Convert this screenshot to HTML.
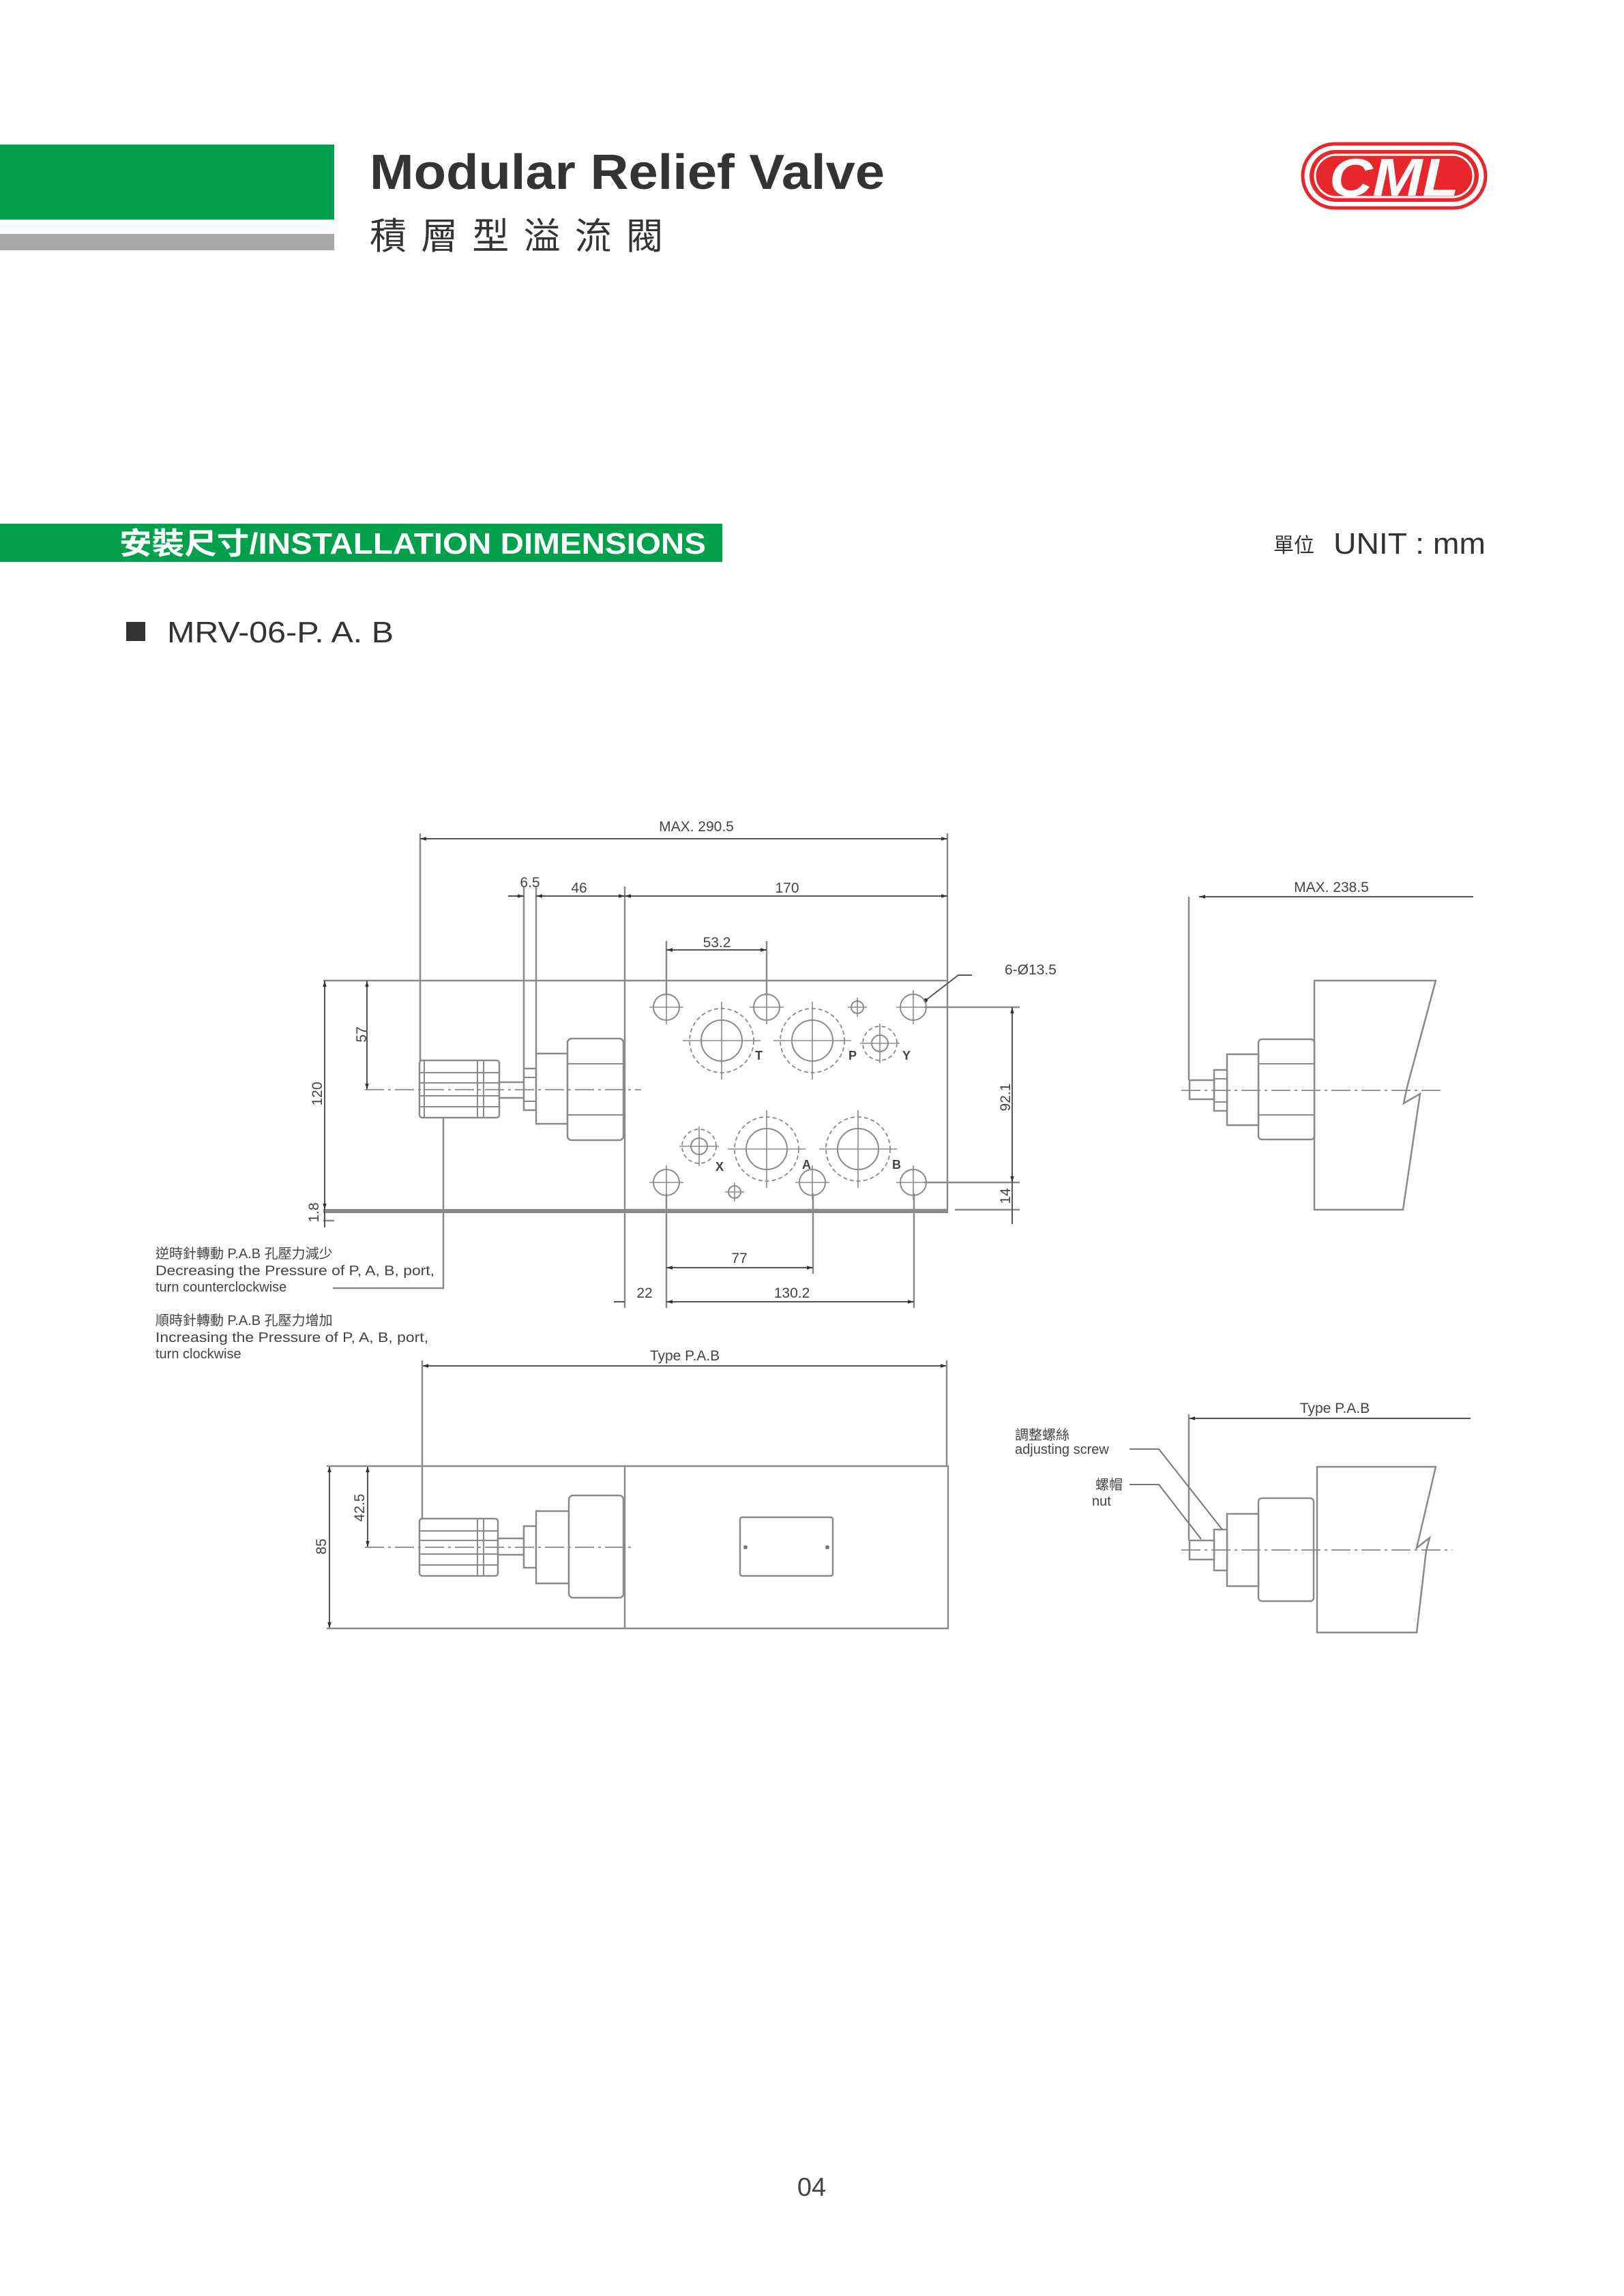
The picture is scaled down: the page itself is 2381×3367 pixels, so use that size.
<!DOCTYPE html>
<html><head><meta charset="utf-8"><style>
html,body{margin:0;padding:0;background:#fff;}
svg{display:block;}
text{font-family:"Liberation Sans","Noto Sans CJK TC",sans-serif;}
</style></head><body>
<svg width="2381" height="3367" viewBox="0 0 2381 3367" xmlns="http://www.w3.org/2000/svg">
<defs>
<marker id="a" viewBox="0 0 10 10" refX="10" refY="5" markerWidth="9" markerHeight="9" orient="auto-start-reverse" markerUnits="userSpaceOnUse"><path d="M0,2 L10,5 L0,8 z" fill="#333"/></marker>
</defs>
<rect width="2381" height="3367" fill="#fff"/>
<!-- header -->
<rect x="0" y="212" width="490" height="110" fill="#00a04c"/>
<rect x="0" y="343" width="490" height="24" fill="#a8a8a8"/>
<text x="542" y="277" font-size="72" font-weight="bold" fill="#333" textLength="755" lengthAdjust="spacingAndGlyphs">Modular Relief Valve</text>
<text x="542" y="365" font-size="54" fill="#333" textLength="430" font-family="'Noto Sans CJK TC',sans-serif">積層型溢流閥</text>
<!-- logo -->
<rect x="1910" y="211" width="268" height="94" rx="47" fill="none" stroke="#e8272d" stroke-width="5"/>
<rect x="1920" y="220" width="248" height="76" rx="38" fill="#e8272d"/>
<rect x="1928" y="227" width="232" height="62" rx="31" fill="none" stroke="#fff" stroke-width="3"/>
<text x="2044" y="287" font-size="78" font-weight="bold" font-style="italic" fill="#fff" text-anchor="middle" textLength="190" lengthAdjust="spacingAndGlyphs">CML</text>
<!-- section -->
<rect x="0" y="768" width="1059" height="56" fill="#00a04c"/>
<text x="175" y="812" font-size="44" font-weight="bold" fill="#fff" textLength="860" lengthAdjust="spacingAndGlyphs">安裝尺寸/INSTALLATION DIMENSIONS</text>
<text x="1867" y="810" font-size="30" fill="#333">單位</text>
<text x="1955" y="812" font-size="44" fill="#333" textLength="223" lengthAdjust="spacingAndGlyphs">UNIT : mm</text>
<rect x="185" y="912" width="28" height="28" fill="#333"/>
<text x="245" y="942" font-size="44" fill="#333" textLength="332" lengthAdjust="spacingAndGlyphs">MRV-06-P. A. B</text>
<text x="1190" y="3220" font-size="38" fill="#444" text-anchor="middle">04</text>

<g stroke="#8a8a8a" stroke-width="2.5" fill="none">
<!-- MAIN VIEW plate -->
<rect x="916" y="1438" width="473" height="336"/>
<line x1="474" y1="1438" x2="916" y2="1438"/>
<line x1="474" y1="1776" x2="1390" y2="1776" stroke-width="6"/>
<!-- extension lines -->
<line x1="616" y1="1222" x2="616" y2="1556"/>
<line x1="1389" y1="1222" x2="1389" y2="1438"/>
<line x1="916" y1="1300" x2="916" y2="1438"/>
<line x1="916" y1="1774" x2="916" y2="1918"/>
<line x1="768" y1="1300" x2="768" y2="1567"/>
<line x1="786" y1="1300" x2="786" y2="1545"/>
<line x1="977" y1="1380" x2="977" y2="1460"/>
<line x1="1124" y1="1380" x2="1124" y2="1460"/>
<line x1="1355" y1="1477" x2="1495" y2="1477"/>
<line x1="1355" y1="1734" x2="1495" y2="1734"/>
<line x1="1400" y1="1774" x2="1495" y2="1774"/>
<line x1="977" y1="1750" x2="977" y2="1918"/>
<line x1="1192" y1="1750" x2="1192" y2="1868"/>
<line x1="1340" y1="1750" x2="1340" y2="1918"/>
<line x1="474" y1="1790" x2="490" y2="1790"/>
<!-- knob leader -->
<polyline points="650,1639 650,1889 488,1889"/>
</g>
<g stroke="#555" stroke-width="2" fill="none" marker-start="url(#a)" marker-end="url(#a)">
<line x1="616" y1="1230" x2="1389" y2="1230"/>
<line x1="916" y1="1314" x2="1389" y2="1314"/>
<line x1="786" y1="1314" x2="916" y2="1314"/>
<line x1="977" y1="1393" x2="1124" y2="1393"/>
<line x1="476" y1="1438" x2="476" y2="1774"/>
<line x1="538" y1="1438" x2="538" y2="1598"/>
<line x1="1484" y1="1477" x2="1484" y2="1734"/>
<line x1="977" y1="1859" x2="1192" y2="1859"/>
<line x1="977" y1="1909" x2="1340" y2="1909"/>
<line x1="1758" y1="1315" x2="2160" y2="1315" marker-end="none"/>
<line x1="619" y1="2003" x2="1388" y2="2003"/>
<line x1="483" y1="2150" x2="483" y2="2388"/>
<line x1="539" y1="2150" x2="539" y2="2269"/>
<line x1="1743" y1="2080" x2="2156" y2="2080" marker-end="none"/>
</g>
<g stroke="#555" stroke-width="2" fill="none">
<line x1="745" y1="1314" x2="768" y2="1314" marker-end="url(#a)"/>
<line x1="1484" y1="1734" x2="1484" y2="1774"/>
<line x1="1484" y1="1774" x2="1484" y2="1795"/>
<line x1="476" y1="1774" x2="476" y2="1800"/>
<line x1="900" y1="1909" x2="916" y2="1909"/>
</g>
<!-- leader 6-Ø13.5 -->
<polyline points="1357,1467 1405,1430 1425,1430" stroke="#555" stroke-width="2" fill="none"/>
<circle cx="1357" cy="1467" r="3" fill="#333"/>

<!-- main valve -->
<g stroke="#8a8a8a" stroke-width="2.5" fill="#fff">
<rect x="615" y="1555" width="117" height="84" rx="4"/>
<rect x="732" y="1587" width="36" height="23"/>
<rect x="768" y="1567" width="18" height="61"/>
<rect x="786" y="1545" width="46" height="103"/>
<rect x="832" y="1523" width="82" height="149" rx="6"/>
</g>
<g stroke="#8a8a8a" stroke-width="2" fill="none">
<line x1="615" y1="1573" x2="732" y2="1573"/><line x1="615" y1="1588" x2="732" y2="1588"/>
<line x1="615" y1="1607" x2="732" y2="1607"/><line x1="615" y1="1623" x2="732" y2="1623"/>
<line x1="700" y1="1555" x2="700" y2="1639"/><line x1="709" y1="1555" x2="709" y2="1639"/>
<line x1="622" y1="1555" x2="622" y2="1639"/>
<line x1="768" y1="1580" x2="786" y2="1580"/><line x1="768" y1="1615" x2="786" y2="1615"/>
<line x1="832" y1="1560" x2="914" y2="1560"/><line x1="832" y1="1635" x2="914" y2="1635"/>
</g>
<line x1="535" y1="1598" x2="940" y2="1598" stroke="#8a8a8a" stroke-width="1.8" stroke-dasharray="28,6,4,6"/>

<!-- holes -->
<g stroke="#8a8a8a" stroke-width="2" fill="none">
<circle cx="977" cy="1477" r="19"/><circle cx="1124" cy="1477" r="19"/><circle cx="1339" cy="1477" r="19"/>
<circle cx="977" cy="1734" r="19"/><circle cx="1191" cy="1734" r="19"/><circle cx="1339" cy="1734" r="19"/>
<circle cx="1058" cy="1526" r="30"/><circle cx="1191" cy="1526" r="30"/>
<circle cx="1124" cy="1685" r="30"/><circle cx="1258" cy="1685" r="30"/>
<circle cx="1290" cy="1530" r="12"/><circle cx="1025" cy="1681" r="12"/>
<circle cx="1257" cy="1477" r="9"/><circle cx="1077" cy="1748" r="9"/>
</g>
<g stroke="#8a8a8a" stroke-width="1.8" fill="none" stroke-dasharray="6,4">
<circle cx="1058" cy="1526" r="47"/><circle cx="1191" cy="1526" r="47"/>
<circle cx="1124" cy="1685" r="47"/><circle cx="1258" cy="1685" r="47"/>
<circle cx="1290" cy="1530" r="25"/><circle cx="1025" cy="1681" r="25"/>
</g>
<g stroke="#8a8a8a" stroke-width="1.6">
<path d="M952,1477h50M977,1452v50M1099,1477h50M1124,1452v50M1314,1477h50M1339,1452v50M952,1734h50M977,1709v50M1166,1734h50M1191,1709v50M1314,1734h50M1339,1709v50"/>
<path d="M1001,1526h114M1058,1469v114M1134,1526h114M1191,1469v114M1067,1685h114M1124,1628v114M1201,1685h114M1258,1628v114"/>
<path d="M1261,1530h58M1290,1501v58M996,1681h58M1025,1652v58M1243,1477h28M1257,1463v28M1063,1748h28M1077,1734v28"/>
</g>
<g font-size="18" font-weight="bold" fill="#444">
<text x="1107" y="1554">T</text><text x="1244" y="1554">P</text><text x="1323" y="1554">Y</text>
<text x="1049" y="1717">X</text><text x="1176" y="1714">A</text><text x="1308" y="1714">B</text>
</g>

<!-- side view main -->
<g stroke="#8a8a8a" stroke-width="2.5" fill="#fff">
<line x1="1743" y1="1315" x2="1743" y2="1584"/>
<path d="M1927,1438 L2105,1438 L2063,1594 L2058,1618 L2082,1604 L2057,1774 L1927,1774 Z"/>
<rect x="1845" y="1524" width="82" height="147" rx="5"/>
<rect x="1799" y="1546" width="46" height="104"/>
<rect x="1780" y="1569" width="19" height="60"/>
<rect x="1744" y="1584" width="36" height="28"/>
</g>
<g stroke="#8a8a8a" stroke-width="2"><line x1="1845" y1="1560" x2="1927" y2="1560"/><line x1="1845" y1="1635" x2="1927" y2="1635"/><line x1="1780" y1="1582" x2="1799" y2="1582"/><line x1="1780" y1="1616" x2="1799" y2="1616"/></g>
<line x1="1732" y1="1599" x2="2117" y2="1599" stroke="#8a8a8a" stroke-width="1.8" stroke-dasharray="28,6,4,6"/>

<!-- lower view -->
<g stroke="#8a8a8a" stroke-width="2.5" fill="none">
<line x1="619" y1="1995" x2="619" y2="2227"/>
<line x1="1388" y1="1995" x2="1388" y2="2150"/>
<line x1="479" y1="2150" x2="916" y2="2150"/>
<line x1="479" y1="2388" x2="916" y2="2388"/>
<rect x="916" y="2150" width="474" height="238"/>
<rect x="1085" y="2225" width="136" height="86" rx="3"/>
</g>
<circle cx="1093" cy="2269" r="3" fill="#777"/><circle cx="1213" cy="2269" r="3" fill="#777"/>
<g stroke="#8a8a8a" stroke-width="2.5" fill="#fff">
<rect x="615" y="2227" width="115" height="84" rx="4"/>
<rect x="730" y="2256" width="38" height="24"/>
<rect x="768" y="2238" width="18" height="61"/>
<rect x="786" y="2216" width="48" height="106"/>
<rect x="834" y="2193" width="80" height="150" rx="6"/>
</g>
<g stroke="#8a8a8a" stroke-width="2">
<line x1="615" y1="2245" x2="730" y2="2245"/><line x1="615" y1="2259" x2="730" y2="2259"/>
<line x1="615" y1="2279" x2="730" y2="2279"/><line x1="615" y1="2295" x2="730" y2="2295"/>
<line x1="700" y1="2227" x2="700" y2="2311"/><line x1="709" y1="2227" x2="709" y2="2311"/>
</g>
<line x1="535" y1="2269" x2="930" y2="2269" stroke="#8a8a8a" stroke-width="1.8" stroke-dasharray="28,6,4,6"/>

<!-- lower side view -->
<g stroke="#8a8a8a" stroke-width="2.5" fill="#fff">
<line x1="1743" y1="2074" x2="1743" y2="2259"/>
<path d="M1931,2151 L2105,2151 L2077,2270 L2096,2255 L2091,2274 L2077,2394 L1931,2394 Z"/>
<rect x="1845" y="2197" width="81" height="151" rx="5"/>
<rect x="1799" y="2220" width="46" height="106"/>
<rect x="1780" y="2243" width="19" height="60"/>
<rect x="1744" y="2259" width="36" height="28"/>
</g>
<line x1="1732" y1="2273" x2="2129" y2="2273" stroke="#8a8a8a" stroke-width="1.8" stroke-dasharray="28,6,4,6"/>
<polyline points="1656,2125 1699,2125 1792,2243" stroke="#777" stroke-width="2" fill="none"/>
<polyline points="1656,2177 1699,2177 1761,2257" stroke="#777" stroke-width="2" fill="none"/>

<!-- dimension texts -->
<g font-size="21" fill="#444" text-anchor="middle">
<text x="1021" y="1219">MAX. 290.5</text>
<text x="777" y="1301">6.5</text>
<text x="849" y="1309">46</text>
<text x="1154" y="1309">170</text>
<text x="1051" y="1389">53.2</text>
<text x="1473" y="1429" text-anchor="start">6-Ø13.5</text>
<text x="1084" y="1852">77</text>
<text x="945" y="1903">22</text>
<text x="1161" y="1903">130.2</text>
<text x="1952" y="1308">MAX. 238.5</text>
<text x="1004" y="1995">Type P.A.B</text>
<text x="1957" y="2072">Type P.A.B</text>
<text transform="translate(472,1604) rotate(-90)">120</text>
<text transform="translate(537,1517) rotate(-90)">57</text>
<text transform="translate(467,1778) rotate(-90)">1.8</text>
<text transform="translate(1481,1609) rotate(-90)">92.1</text>
<text transform="translate(1481,1754) rotate(-90)">14</text>
<text transform="translate(478,2268) rotate(-90)">85</text>
<text transform="translate(534,2211) rotate(-90)">42.5</text>
</g>
<g font-size="20" fill="#444">
<text x="228" y="1845">逆時針轉動 P.A.B 孔壓力減少</text>
<text x="228" y="1870" textLength="409" lengthAdjust="spacingAndGlyphs">Decreasing the Pressure of P, A, B, port,</text>
<text x="228" y="1894">turn counterclockwise</text>
<text x="228" y="1943">順時針轉動 P.A.B 孔壓力增加</text>
<text x="228" y="1968" textLength="400" lengthAdjust="spacingAndGlyphs">Increasing the Pressure of P, A, B, port,</text>
<text x="228" y="1992">turn clockwise</text>
<text x="1488" y="2111">調整螺絲</text>
<text x="1488" y="2132">adjusting screw</text>
<text x="1646" y="2184" text-anchor="end">螺帽</text>
<text x="1601" y="2208">nut</text>
</g>
</svg>
</body></html>
